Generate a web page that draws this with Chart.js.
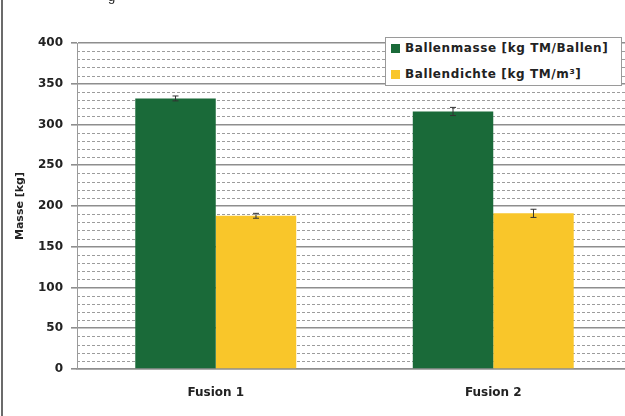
<!DOCTYPE html>
<html>
<head>
<meta charset="utf-8">
<script src="https://cdn.jsdelivr.net/npm/chart.js@4"></script>
<style>
  html, body { margin: 0; padding: 0; overflow: hidden; background: #fff; }
  #wrap { position: relative; width: 625px; height: 416px; overflow: hidden; }
  #frame { position: absolute; left: 1px; top: 0; width: 2px; height: 416px; background: #6b6b6b; }
  #cap { position: absolute; left: 108px; top: -11px; font: 13px "Liberation Sans", Arial, sans-serif; color: #222; }
  #chartBox { position: absolute; left: 0; top: 0; width: 632px; height: 416px; }
  #legend {
    position: absolute; left: 385px; top: 37px; width: 237px; height: 49px;
    background: #fff; border: 1px solid #9a9a9a; box-sizing: border-box;
    font: bold 12px "DejaVu Sans", sans-serif; color: #222;
  }
  #legend div { position: absolute; left: 5px; height: 16px; line-height: 16px; white-space: nowrap; letter-spacing: 0.6px; }
  #legend span { display: inline-block; width: 9px; height: 9px; margin-right: 5px; vertical-align: -1px; }
</style>
</head>
<body>
<div id="wrap">
  <div id="chartBox"><canvas id="graphCanvas" width="632" height="416"></canvas></div>
  <div id="frame"></div>
  <div id="cap">g</div>
  <div id="legend"></div>
</div>
<script>
// chart values
const categories = ['Fusion 1', 'Fusion 2'];
const seriesNames = ['Ballenmasse [kg TM/Ballen]', 'Ballendichte [kg TM/m³]'];
const ballenmasse = [332, 316];
const ballenmasseErr = [3, 5];
const ballendichte = [188, 191];
const ballendichteErr = [3, 5];
const seriesColors = ['#1a6a39', '#f9c62a'];
const yTicks = [0, 50, 100, 150, 200, 250, 300, 350, 400];

const tickFont = { family: 'DejaVu Sans', size: 12, weight: 'bold' };

// legend
const legendDiv = document.getElementById('legend');
seriesNames.forEach((name, i) => {
  const row = document.createElement('div');
  row.style.top = (2 + i * 26) + 'px';
  row.innerHTML = `<span style="background:${seriesColors[i]}"></span>${name}`;
  legendDiv.appendChild(row);
});

const isMajor = (c) => c.tick && c.tick.value % 50 === 0;

// dotted minor grid lines every 10 kg
const minorGrid = {
  id: 'minorGrid',
  beforeDatasetsDraw(chart) {
    const { ctx, chartArea: a, scales: { y } } = chart;
    ctx.save();
    ctx.strokeStyle = '#9c9c9c';
    ctx.lineWidth = 1;
    ctx.setLineDash([3, 2]);
    for (let v = 10; v < 400; v += 10) {
      if (v % 50 === 0) continue;
      const py = Math.round(y.getPixelForValue(v)) + 0.5;
      ctx.beginPath();
      ctx.moveTo(a.left, py);
      ctx.lineTo(a.right, py);
      ctx.stroke();
    }
    ctx.restore();
  }
};

// small error bars drawn through the scales
const errorBars = {
  id: 'errorBars',
  afterDatasetsDraw(chart) {
    const ctx = chart.ctx;
    const y = chart.scales.y;
    chart.data.datasets.forEach((ds, di) => {
      const meta = chart.getDatasetMeta(di);
      meta.data.forEach((bar, i) => {
        const v = ds.data[i], e = ds.errors[i];
        const top = y.getPixelForValue(v + e), bot = y.getPixelForValue(v - e);
        ctx.save();
        ctx.strokeStyle = '#333';
        ctx.lineWidth = 1;
        ctx.beginPath();
        ctx.moveTo(bar.x, top); ctx.lineTo(bar.x, bot);
        ctx.moveTo(bar.x - 3, top); ctx.lineTo(bar.x + 3, top);
        ctx.moveTo(bar.x - 3, bot); ctx.lineTo(bar.x + 3, bot);
        ctx.stroke();
        ctx.restore();
      });
    });
  }
};

const ctx = document.getElementById('graphCanvas').getContext('2d');
window.massChart = new Chart(ctx, {
  type: 'bar',
  data: {
    labels: categories,
    datasets: [
      { label: seriesNames[0], data: ballenmasse, errors: ballenmasseErr, backgroundColor: seriesColors[0] },
      { label: seriesNames[1], data: ballendichte, errors: ballendichteErr, backgroundColor: seriesColors[1] }
    ]
  },
  options: {
    responsive: false,
    animation: false,
    layout: { padding: { top: 43, right: 0, left: 0, bottom: 0 } },
    datasets: { bar: { categoryPercentage: 0.58, barPercentage: 1.0 } },
    plugins: { legend: { display: false }, tooltip: { enabled: false } },
    scales: {
      x: {
        grid: { display: false },
        border: { color: '#8e8e8e', width: 1.5 },
        ticks: { color: '#222', font: tickFont, padding: 9 },
        afterFit(scale) { scale.height = 47; }
      },
      y: {
        min: 0, max: 400,
        ticks: {
          stepSize: 10,
          autoSkip: false,
          color: '#222',
          padding: 8,
          font: tickFont,
          callback: (v) => yTicks.includes(v) ? v : ''
        },
        grid: {
          color: (c) => isMajor(c) ? '#8e8e8e' : 'rgba(0,0,0,0)',
          lineWidth: 1.6,
          tickColor: (c) => isMajor(c) ? '#8e8e8e' : 'rgba(0,0,0,0)',
          tickLength: 6
        },
        border: { color: '#9a9a9a' },
        title: {
          display: true, text: 'Masse [kg]', color: '#222',
          font: { family: 'DejaVu Sans', size: 11, weight: 'bold' }, padding: { top: 14, bottom: 0 }
        },
        afterFit(scale) { scale.width = 77; }
      }
    }
  },
  plugins: [minorGrid, errorBars]
});
</script>
</body>
</html>
